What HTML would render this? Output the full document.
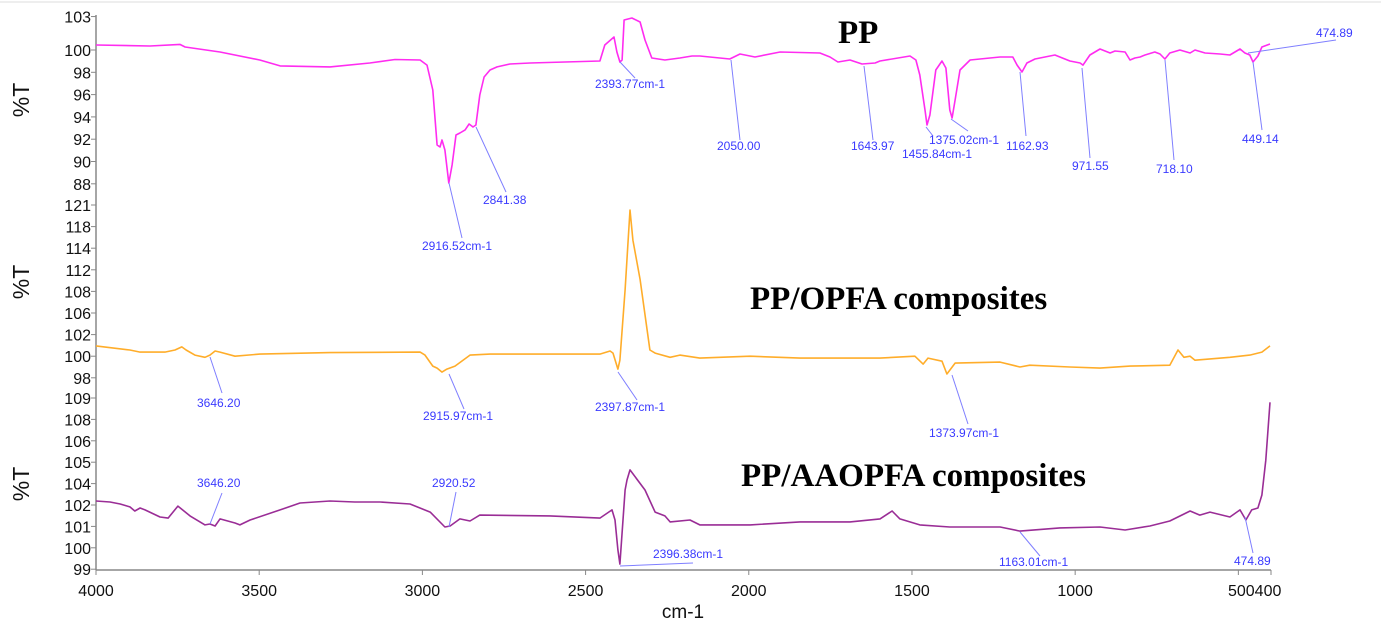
<!DOCTYPE html>
<html><head><meta charset="utf-8">
<style>
html,body{margin:0;padding:0;background:#fff;}
svg{display:block;}
.tk{font-family:"Liberation Sans",sans-serif;font-size:16px;fill:#111;}
.an{font-family:"Liberation Sans",sans-serif;font-size:12px;fill:#3a3aff;}
.ttl{font-family:"Liberation Serif",serif;font-size:33px;font-weight:bold;fill:#000;}
</style></head>
<body>
<svg id="chart" width="1381" height="637" viewBox="0 0 1381 637" xmlns="http://www.w3.org/2000/svg">
<line x1="0" y1="2" x2="1381" y2="2" stroke="#eee" stroke-width="2"/>
<g id="axes"></g>
<g id="series"></g>
<g id="annots"></g>
<text class="ttl" x="838" y="43">PP</text>
<text class="ttl" x="750" y="309">PP/OPFA composites</text>
<text class="ttl" x="741" y="486">PP/AAOPFA composites</text>
<text class="tk" x="683" y="618" text-anchor="middle" style="font-size:19px">cm-1</text>
</svg>
<script>
// ---- data ----
const xTicks = [4000,3500,3000,2500,2000,1500,1000,500,400];
const xTickLabels = ["4000","3500","3000","2500","2000","1500","1000","500","400"];

const ppWave = [4000,3835,3743,3727,3620,3498,3436,3283,3161,3084,3007,2986,2968,2955,2946,2940,2931,2919,2909,2897,2885,2869,2857,2845,2836,2824,2811,2793,2771,2732,2670,2563,2456,2441,2413,2404,2395,2388,2382,2358,2333,2318,2297,2257,2211,2174,2150,2058,2027,1981,1904,1782,1751,1727,1690,1653,1613,1598,1506,1488,1476,1460,1454,1445,1427,1408,1396,1384,1377,1368,1353,1322,1261,1230,1191,1178,1163,1148,1123,1062,1016,985,976,955,924,893,878,847,832,817,801,786,756,740,725,710,679,648,633,602,556,526,495,480,465,455,440,428,403];
const ppT = [100.45,100.36,100.5,100.27,99.82,99.1,98.57,98.48,98.83,99.15,99.1,98.65,96.41,91.48,91.3,91.93,91.03,88.07,89.69,92.38,92.56,92.83,93.36,93.09,93.27,95.96,97.58,98.21,98.48,98.74,98.83,98.92,99.01,100.45,101.17,99.82,98.92,99.1,102.69,102.87,102.51,100.9,99.28,99.1,99.28,99.46,99.46,99.19,99.64,99.37,99.82,99.73,99.37,98.92,99.1,98.74,98.83,99.01,99.46,99.1,97.76,94.62,93.27,94.17,98.21,99.01,98.39,94.62,93.9,95.52,98.21,99.1,99.28,99.37,99.37,98.65,98.03,98.83,99.19,99.55,99.01,98.83,98.65,99.55,100.09,99.73,99.91,99.82,99.1,99.28,99.37,99.55,99.82,99.64,99.19,99.73,100.0,99.73,100.0,99.73,99.64,99.55,100.09,99.73,99.55,98.92,99.46,100.27,100.54];

const opWave = [4000,3896,3865,3789,3758,3737,3724,3697,3666,3651,3635,3620,3574,3498,3283,3007,2992,2968,2955,2940,2925,2900,2854,2793,2456,2425,2416,2401,2395,2379,2364,2355,2333,2303,2287,2241,2211,2150,1996,1843,1598,1491,1466,1451,1408,1393,1368,1230,1169,1139,1016,924,832,710,685,667,648,633,526,465,428,403];
const opT = [100.95,100.57,100.38,100.38,100.57,100.86,100.57,100.1,99.9,100.1,100.48,100.38,100.0,100.19,100.33,100.38,100.1,99.08,98.9,98.53,98.81,99.08,100.1,100.19,100.19,100.48,100.29,98.81,99.63,108.3,120.3,115.5,110.2,100.57,100.29,99.9,100.1,99.82,100.0,99.82,99.82,100.0,99.27,99.82,99.54,98.35,99.36,99.45,99.0,99.17,99.0,98.9,99.08,99.17,100.57,99.9,100.0,99.63,99.9,100.1,100.38,100.95];

const aaWave = [4000,3957,3926,3896,3881,3865,3850,3804,3779,3749,3712,3666,3651,3635,3620,3574,3559,3528,3436,3375,3283,3207,3130,3038,2976,2931,2915,2885,2854,2824,2609,2456,2419,2410,2401,2395,2379,2373,2364,2318,2287,2257,2241,2180,2150,1996,1843,1690,1598,1561,1537,1476,1384,1230,1169,1047,924,847,771,710,648,618,587,526,495,477,459,440,428,416,403];
const aaT = [102.37,102.28,102.09,101.91,101.72,101.86,101.77,101.44,101.39,101.95,101.49,101.07,101.11,101.02,101.35,101.16,101.07,101.3,101.77,102.19,102.37,102.28,102.28,102.09,101.67,100.97,101.02,101.35,101.25,101.53,101.49,101.39,101.77,101.3,99.9,99.24,103.4,104.17,104.64,103.4,101.67,101.49,101.21,101.3,101.07,101.07,101.21,101.21,101.35,101.72,101.35,101.07,100.97,100.97,100.78,100.93,100.97,100.83,101.02,101.25,101.72,101.53,101.67,101.44,101.77,101.3,101.77,101.86,102.93,105.1,108.8];

const p1Ticks = [103,100,98,96,94,92,90,88];
const p2Ticks = [121,118,114,112,108,106,102,100,98];
const p3Ticks = [109,108,106,105,104,102,101,100,99];

// ---- scales ----
const X0 = 96, X1 = 1271;
function xs(w){ return X0 + (4000 - w) * (X1 - X0) / 3600; }
function y1(v){ return 50 + (100 - v) * 11.15; }
function piece(ticks, top, step){
  const pos = ticks.map((t,i)=>top + i*step);
  return function(v){
    for(let i=0;i<ticks.length-1;i++){
      const a=ticks[i], b=ticks[i+1];
      if(v<=a && v>=b) return pos[i] + (a-v)/(a-b)*(pos[i+1]-pos[i]);
    }
    if(v>ticks[0]) return pos[0] - (v-ticks[0])/(ticks[0]-ticks[1])*(pos[1]-pos[0]);
    const n=ticks.length-1;
    return pos[n] + (ticks[n]-v)/(ticks[n-1]-ticks[n])*(pos[n]-pos[n-1]);
  };
}
const y2 = piece(p2Ticks, 205, 21.6);
const y3 = piece(p3Ticks, 398, 21.4);

const NS = "http://www.w3.org/2000/svg";
function mk(tag, attrs, parent){
  const e = document.createElementNS(NS, tag);
  for(const k in attrs) e.setAttribute(k, attrs[k]);
  parent.appendChild(e);
  return e;
}
const axes = document.getElementById('axes');
const seriesG = document.getElementById('series');
const ann = document.getElementById('annots');

let l = mk('line',{x1:X0,y1:15,x2:X0,y2:570,stroke:'#888','stroke-width':1.5},axes);


l = mk('line',{x1:X0,y1:570,x2:X1,y2:570,stroke:'#888','stroke-width':1.5},axes);



xTicks.forEach((t,i)=>{
  const x = xs(t);
  const tk = mk('line',{x1:x,y1:570,x2:x,y2:575,stroke:'#888'},axes);
  
  
});
const xl = [["4000",4000,'middle'],["3500",3500,'middle'],["3000",3000,'middle'],["2500",2500,'middle'],["2000",2000,'middle'],["1500",1500,'middle'],["1000",1000,'middle'],["500400",450,'middle']];
xl.forEach(d=>{
  const t = mk('text',{x:xs(d[1]),y:596,'text-anchor':d[2],class:'tk'},axes);
  t.textContent = d[0];
  
  
});

function yTicks(ticks, ys){
  ticks.forEach(v=>{
    const y = ys(v);
    const tk = mk('line',{x1:X0-5,y1:y,x2:X0,y2:y,stroke:'#888'},axes);
    
    
    const t = mk('text',{x:X0-5,y:y+6,'text-anchor':'end',class:'tk'},axes);
    t.textContent = v;
    
    
  });
}
yTicks(p1Ticks, y1);
yTicks(p2Ticks, y2);
yTicks(p3Ticks, y3);

[[100,'y-axis-title-pp'],[282,'y-axis-title-opfa'],[484,'y-axis-title-aaopfa']].forEach(d=>{
  const t = mk('text',{x:0,y:0,transform:`translate(29,${d[0]}) rotate(-90)`,'text-anchor':'middle',class:'tk',style:'font-size:23px'},axes);
  t.textContent = '%T';
  
  
});

function drawLine(wv, tv, ys, color, name){
  const d = wv.map((w,i)=>(i?'L':'M')+xs(w).toFixed(1)+','+ys(tv[i]).toFixed(1)).join(' ');
  const p = mk('path',{d:d,fill:'none',stroke:color,'stroke-width':1.6,'stroke-linejoin':'round'},seriesG);
  
  
}
drawLine(ppWave, ppT, y1, '#ff2cf0', 'line-pp');
drawLine(opWave, opT, y2, '#ffad2a', 'line-pp-opfa');
drawLine(aaWave, aaT, y3, '#9a2d96', 'line-pp-aaopfa');

const annots = [
 ["2393.77cm-1",595,88,620,62,635,78],
 ["2050.00",717,150,731,60,740,140],
 ["2916.52cm-1",422,250,449,183,462,238],
 ["2841.38",483,204,476,127,506,192],
 ["1643.97",851,150,864,66,873,140],
 ["1455.84cm-1",902,158,926,127,933,136],
 ["1375.02cm-1",929,144,951,119,968,131],
 ["1162.93",1006,150,1020,72,1026,136],
 ["971.55",1072,170,1082,68,1090,158],
 ["718.10",1156,173,1165,60,1174,160],
 ["449.14",1242,143,1253,62,1262,130],
 ["474.89",1316,37,1248,53,1336,40],
 ["3646.20",197,407,210,357,222,393],
 ["2915.97cm-1",423,420,449,374,464,409],
 ["2397.87cm-1",595,411,618,372,637,400],
 ["1373.97cm-1",929,437,952,375,968,424],
 ["3646.20",197,487,222,493,210,524],
 ["2920.52",432,487,456,492,449,527],
 ["2396.38cm-1",653,558,620,566,693,563],
 ["1163.01cm-1",999,566,1020,532,1040,556],
 ["474.89",1234,565,1245,517,1253,553]
];
annots.forEach(a=>{
  const ln = mk('line',{x1:a[3],y1:a[4],x2:a[5],y2:a[6],stroke:'#7f7fff','stroke-width':1},ann);
  
  
  const t = mk('text',{x:a[1],y:a[2],class:'an'},ann);
  t.textContent = a[0];
  
  
});
</script>
</body></html>
